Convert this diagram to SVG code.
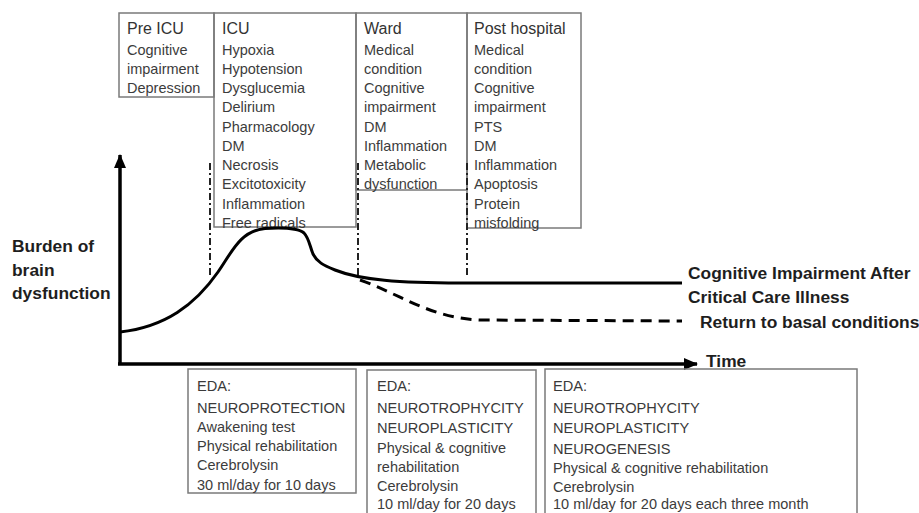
<svg xmlns="http://www.w3.org/2000/svg" width="919" height="513" viewBox="0 0 919 513">
<defs>
<style>
.box{fill:none;stroke:#7a7a7a;stroke-width:1.5}
.t{font-family:"Liberation Sans",Arial,sans-serif;font-size:14.5px;fill:#3c3c3c}
.h{font-family:"Liberation Sans",Arial,sans-serif;font-size:16px;fill:#333}
.c{font-family:"Liberation Sans",Arial,sans-serif;font-size:14.6px;fill:#3a3a3a}
.b{font-family:"Liberation Sans",Arial,sans-serif;font-size:17.4px;font-weight:bold;fill:#1e1e1e}
.axis{stroke:#000;stroke-width:3.5;fill:none}
.dd{stroke:#222;stroke-width:2;stroke-dasharray:7 3 2 3;fill:none}
.curve{stroke:#000;stroke-width:3;fill:none}
.dash{stroke:#000;stroke-width:3;fill:none;stroke-dasharray:11 7}
</style>
<marker id="ah" markerUnits="userSpaceOnUse" markerWidth="14" markerHeight="14" refX="13" refY="7" orient="auto">
<path d="M0,1 L14,7 L0,13 Z" fill="#000"/>
</marker>
</defs>
<rect width="919" height="513" fill="#fff"/>

<g id="pre-icu">
<rect class="box" x="119" y="13" width="95" height="84"/>
<text class="h" x="127" y="34">Pre ICU</text>
<text class="t" x="127" y="54.5">Cognitive</text>
<text class="t" x="127" y="73.7">impairment</text>
<text class="t" x="127" y="93">Depression</text>
</g>

<g id="icu">
<rect class="box" x="214" y="13" width="142" height="214"/>
<text class="h" x="222" y="34">ICU</text>
<text class="t" x="222" y="54.5">Hypoxia</text>
<text class="t" x="222" y="73.7">Hypotension</text>
<text class="t" x="222" y="93">Dysglucemia</text>
<text class="t" x="222" y="112.2">Delirium</text>
<text class="t" x="222" y="131.5">Pharmacology</text>
<text class="t" x="222" y="150.7">DM</text>
<text class="t" x="222" y="170">Necrosis</text>
<text class="t" x="222" y="189.2">Excitotoxicity</text>
<text class="t" x="222" y="208.5">Inflammation</text>
<text class="t" x="222" y="227.7">Free radicals</text>
</g>

<g id="ward">
<rect class="box" x="356" y="13" width="111" height="177"/>
<text class="h" x="364" y="34">Ward</text>
<text class="t" x="364" y="54.5">Medical</text>
<text class="t" x="364" y="73.7">condition</text>
<text class="t" x="364" y="93">Cognitive</text>
<text class="t" x="364" y="112.2">impairment</text>
<text class="t" x="364" y="131.5">DM</text>
<text class="t" x="364" y="150.7">Inflammation</text>
<text class="t" x="364" y="170">Metabolic</text>
<text class="t" x="364" y="189.2">dysfunction</text>
</g>

<g id="post-hospital">
<rect class="box" x="467" y="13" width="114" height="215"/>
<text class="h" x="474" y="34">Post hospital</text>
<text class="t" x="474" y="54.5">Medical</text>
<text class="t" x="474" y="73.7">condition</text>
<text class="t" x="474" y="93">Cognitive</text>
<text class="t" x="474" y="112.2">impairment</text>
<text class="t" x="474" y="131.5">PTS</text>
<text class="t" x="474" y="150.7">DM</text>
<text class="t" x="474" y="170">Inflammation</text>
<text class="t" x="474" y="189.2">Apoptosis</text>
<text class="t" x="474" y="208.5">Protein</text>
<text class="t" x="474" y="227.7">misfolding</text>
</g>

<g id="connectors">
<line class="axis" x1="120" y1="365" x2="120" y2="155" marker-end="url(#ah)"/>
<line class="axis" x1="118" y1="364" x2="697" y2="364" marker-end="url(#ah)"/>
<line class="dd" x1="210" y1="163" x2="210" y2="276"/>
<line class="dd" x1="358" y1="163" x2="358" y2="278"/>
<line class="dd" x1="467" y1="163" x2="467" y2="276"/>
<path class="curve" d="M120,332 C165,327 195,305 218,272 C232,252 240,231 265,228.5 C282,227.5 298,228 304,233 C309,238 310,247 313,254 C317,262 323,265 335,270 C360,280 400,283 460,283 L682,283"/>
<path class="dash" d="M360,280 C400,294 430,318 480,320 L682,321"/>
</g>

<g id="axis-labels">
<text class="b" x="12" y="252">Burden of</text>
<text class="b" x="12" y="275.5">brain</text>
<text class="b" x="12" y="299">dysfunction</text>
<text class="b" x="706" y="367">Time</text>
<text class="b" x="688" y="279">Cognitive Impairment After</text>
<text class="b" x="688" y="303">Critical Care Illness</text>
<text class="b" x="700" y="328">Return to basal conditions</text>
</g>

<g id="eda-1">
<rect class="box" x="188" y="369" width="168" height="124"/>
<text class="c" x="197" y="391">EDA:</text>
<text class="c" x="197" y="412.5">NEUROPROTECTION</text>
<text class="t" x="197" y="432">Awakening test</text>
<text class="t" x="197" y="451">Physical rehabilitation</text>
<text class="t" x="197" y="470">Cerebrolysin</text>
<text class="t" x="197" y="490">30 ml/day for 10 days</text>
</g>

<g id="eda-2">
<rect class="box" x="367" y="370" width="169" height="160"/>
<text class="c" x="377" y="391">EDA:</text>
<text class="c" x="377" y="412.5">NEUROTROPHYCITY</text>
<text class="c" x="377" y="433">NEUROPLASTICITY</text>
<text class="t" x="377" y="453">Physical &amp; cognitive</text>
<text class="t" x="377" y="472">rehabilitation</text>
<text class="t" x="377" y="491">Cerebrolysin</text>
<text class="t" x="377" y="509">10 ml/day for 20 days</text>
</g>

<g id="eda-3">
<rect class="box" x="545" y="369" width="312" height="160"/>
<text class="c" x="553" y="391">EDA:</text>
<text class="c" x="553" y="412.5">NEUROTROPHYCITY</text>
<text class="c" x="553" y="433">NEUROPLASTICITY</text>
<text class="c" x="553" y="453.5">NEUROGENESIS</text>
<text class="t" x="553" y="473">Physical &amp; cognitive rehabilitation</text>
<text class="t" x="553" y="492">Cerebrolysin</text>
<text class="t" x="553" y="509">10 ml/day for 20 days each three month</text>
</g>
</svg>
